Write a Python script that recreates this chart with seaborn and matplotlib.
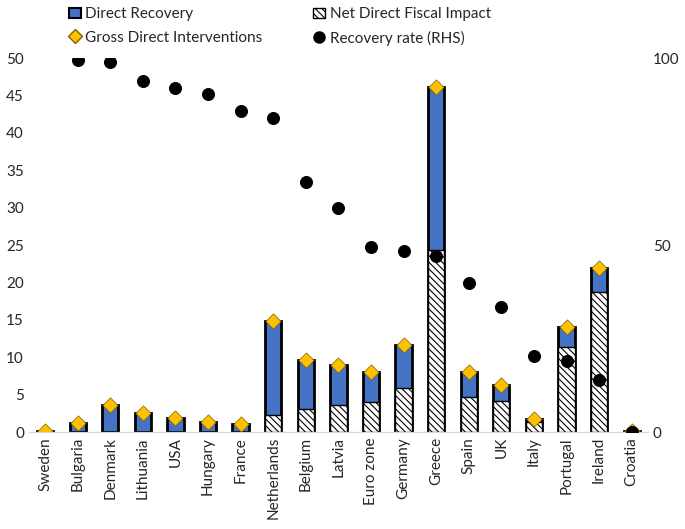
import numpy as np
import pandas as pd
import matplotlib
matplotlib.use("Agg")
import matplotlib.pyplot as plt
from matplotlib.patches import Patch
from matplotlib.lines import Line2D
import seaborn as sns

# data
countries = ["Sweden", "Bulgaria", "Denmark", "Lithuania", "USA", "Hungary", "France",
             "Netherlands", "Belgium", "Latvia", "Euro zone", "Germany", "Greece", "Spain",
             "UK", "Italy", "Portugal", "Ireland", "Croatia"]
gross = [0.15, 1.2, 3.6, 2.6, 1.9, 1.4, 1.1, 14.9, 9.7, 9.0, 8.0, 11.7, 46.2, 8.0,
         6.3, 1.7, 14.1, 22.0, 0.2]
net_impact = [0.0, 0.0, 0.0, 0.0, 0.0, 0.0, 0.0, 2.3, 3.1, 3.6, 4.0, 5.9, 24.3, 4.7,
              4.2, 1.3, 11.4, 18.7, 0.2]
recovery_rate = [np.nan, 99.5, 99, 94, 92, 90.5, 86, 84, 67, 60, 49.5, 48.5, 47, 40,
                 33.5, 20.5, 19, 14, 0]

df = pd.DataFrame({"country": countries, "gross": gross, "net": net_impact,
                   "rate": recovery_rate})
df["pos"] = np.arange(len(df))

sns.set_style("white")
plt.rcParams["font.family"] = ["Lato", "DejaVu Sans"]
plt.rcParams["hatch.linewidth"] = 0.8

blue = "#4472C4"
gold = "#FFC000"

fig = plt.figure(figsize=(6.85, 5.29), dpi=100)
ax = fig.add_axes([0.042, 0.183, 0.904, 0.707])

# direct recovery sits on top of net impact, so the full bar is gross
sns.barplot(data=df, x="country", y="gross", color=blue, saturation=1, width=0.5,
            edgecolor="black", linewidth=2, ax=ax)
sns.barplot(data=df, x="country", y="net", color="white", saturation=1, width=0.5,
            edgecolor="black", linewidth=1, hatch="\\\\\\\\\\", ax=ax)
sns.scatterplot(data=df, x="pos", y="gross", marker="D", s=60, color=gold,
                edgecolor="#7f6000", linewidth=0.5, ax=ax, zorder=5)

ax.set_xlim(-0.5, len(df) - 0.5)
ax.set_ylim(0, 50)
ax.set_yticks(np.arange(0, 51, 5))
ax.set_xticks(df["pos"])
ax.set_xticklabels(countries, rotation=90)
ax.set_xlabel("")
ax.set_ylabel("")
ax.tick_params(length=0, labelsize=11, colors="#262626")

ax2 = ax.twinx()
sns.scatterplot(data=df, x="pos", y="rate", s=75, color="black", edgecolor="black",
                ax=ax2, zorder=6)
ax2.set_ylim(0, 100)
ax2.set_yticks([0, 50, 100])
ax2.set_ylabel("")
ax2.tick_params(length=0, labelsize=11, colors="#262626")

for a in (ax, ax2):
    for s in ["top", "left", "right"]:
        a.spines[s].set_visible(False)
    a.spines["bottom"].set_color("#D9D9D9")

h_rec = Patch(facecolor=blue, edgecolor="black", linewidth=1.5)
h_net = Patch(facecolor="white", edgecolor="black", hatch="\\\\\\\\\\")
h_gross = Line2D([], [], marker="D", color="none", markerfacecolor=gold,
                 markeredgecolor="#7f6000", markersize=7)
h_rate = Line2D([], [], marker="o", color="none", markerfacecolor="black",
                markeredgecolor="black", markersize=8)
# legend fills column-wise
handles = [h_rec, h_gross, h_net, h_rate]
labels = ["Direct Recovery", "Gross Direct Interventions", "Net Direct Fiscal Impact",
          "Recovery rate (RHS)"]
fig.legend(handles, labels, ncol=2, loc="upper left", bbox_to_anchor=(0.08, 1.012),
           frameon=False, fontsize=11, handlelength=0.8, handletextpad=0.3,
           columnspacing=3.3, labelspacing=0.6)

fig.savefig("out.png", dpi=100)
